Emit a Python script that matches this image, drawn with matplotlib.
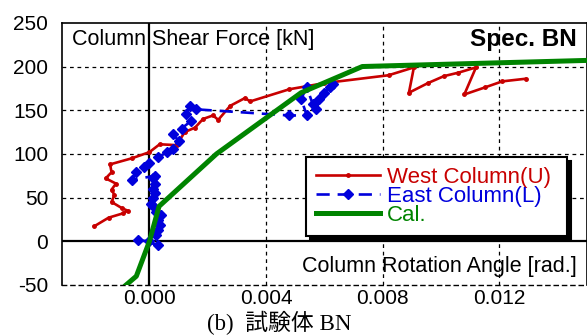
import numpy as np
import matplotlib.pyplot as plt

plt.rcParams['font.family'] = ['Liberation Sans', 'DejaVu Sans']
plt.rcParams['axes.unicode_minus'] = False

# West Column(U)
west_x = [-0.0019, -0.0014, -0.0009, -0.00075, -0.00095, -0.0013, -0.0012, -0.0013,
          -0.00115, -0.0015, -0.0013, -0.00135, -0.0006, 0.0, 0.00035, 0.00093,
          0.00121, 0.00156, 0.00184, 0.00218, 0.00236, 0.00277, 0.00328, 0.00345,
          0.0048, 0.006, 0.0082, 0.00907, 0.0089, 0.00955, 0.0101, 0.0106, 0.0112,
          0.0108, 0.0115, 0.0121, 0.0129]
west_y = [17, 27, 32, 35, 38, 45, 53, 59, 66, 72, 79, 88, 95, 102, 111, 110,
          125, 130, 140, 144, 139, 155, 164, 160, 174, 181, 190, 199, 170, 181,
          189, 193, 199, 168, 176, 183, 186]

# East Column(L)
east_x = [0.0, -0.0004, 0.0003, 0.00024, 0.0003, 0.00035, 0.0003, 0.00041, 0.00024,
          0.00012, 0.00007, 0.00012, 0.00018, 0.00012, 0.00018, 0.00012, 0.00018,
          -0.0006, -0.00045, -0.0002, 0.0, 0.0003, 0.0006, 0.0008, 0.001, 0.0008,
          0.0011, 0.00144, 0.00127, 0.00139, 0.0016, 0.0048, 0.0054, 0.0052,
          0.0054, 0.0056, 0.0058, 0.0057, 0.006, 0.0062, 0.0063]
east_y = [0, 1, -4, 7, 13, 19, 24, 30, 34, 40, 43, 49, 55, 60, 66, 72, 75,
          70, 79, 85, 89, 96, 102, 106, 115, 123, 129, 138, 146, 155, 151, 144,
          144, 163, 176, 157, 163, 151, 170, 176, 180]

# Cal.
cal_x = [-0.0008, -0.00045, 0.0, 0.00033, 0.0023, 0.0052, 0.0073, 0.015]
cal_y = [-50, -40, 0, 40, 100, 170, 200, 207]

red = '#c80000'
blue = '#0000dc'
green = '#008400'

fig = plt.figure(figsize=(5.87, 3.36), dpi=100)
ax = fig.add_axes([0.1056, 0.152, 0.894, 0.78])

ax.set_xlim(-0.003, 0.015)
ax.set_ylim(-50, 250)
ax.set_xticks([0.0, 0.004, 0.008, 0.012])
ax.set_xticklabels(['0.000', '0.004', '0.008', '0.012'])
ax.set_yticks([-50, 0, 50, 100, 150, 200, 250])
ax.tick_params(length=0, labelsize=15)
ax.tick_params(axis='y', pad=10)
ax.tick_params(axis='x', pad=3)

for gx in [0.004, 0.008, 0.012]:
    ax.axvline(gx, color='black', lw=0.9, ls=(0, (3, 3)), zorder=1)
for gy in [50, 100, 150, 200]:
    ax.axhline(gy, color='black', lw=0.9, ls=(0, (3, 3)), zorder=1)
ax.axvline(0, color='black', lw=1.6, zorder=2)
ax.axhline(0, color='black', lw=1.6, zorder=2)

for s in ['left', 'top', 'right']:
    ax.spines[s].set_linewidth(1.2)
ax.spines['bottom'].set_linestyle((0, (3, 3)))
ax.spines['bottom'].set_linewidth(1.0)

ax.plot(west_x, west_y, color=red, lw=1.9, marker='o', ms=2.5,
        label='West Column(U)', zorder=4)
ax.plot(east_x, east_y, color=blue, lw=1.9, ls=(0, (5, 3)), marker='D', ms=5,
        label='East Column(L)', zorder=5)
ax.plot(cal_x, cal_y, color=green, lw=3.6, label='Cal.', zorder=6)

ax.text(0.02, 0.935, 'Column Shear Force [kN]', transform=ax.transAxes,
        fontsize=15.5, va='center', ha='left')
ax.text(0.98, 0.935, 'Spec. BN', transform=ax.transAxes,
        fontsize=17.5, fontweight='bold', va='center', ha='right')
ax.text(0.98, 0.07, 'Column Rotation Angle [rad.]', transform=ax.transAxes,
        fontsize=15.5, va='center', ha='right')

leg = ax.legend(loc='upper left', bbox_to_anchor=(0.465, 0.183, 0.497, 0.306),
                mode='expand', borderaxespad=0, fontsize=16, labelspacing=-0.08,
                handlelength=2.9, handletextpad=0.3, borderpad=0.45,
                fancybox=False, labelcolor='linecolor',
                shadow={'ox': 3, 'oy': -3, 'color': 'black', 'alpha': 1})
leg.get_frame().set_edgecolor('black')
leg.get_frame().set_linewidth(1.5)
leg.set_zorder(10)

fig.text(0.475, 0.04, '(b)  試験体 BN', family=['Liberation Serif', 'Noto Sans CJK JP'],
         fontsize=16.5, ha='center', va='center')

fig.savefig('out.png', dpi=100)
